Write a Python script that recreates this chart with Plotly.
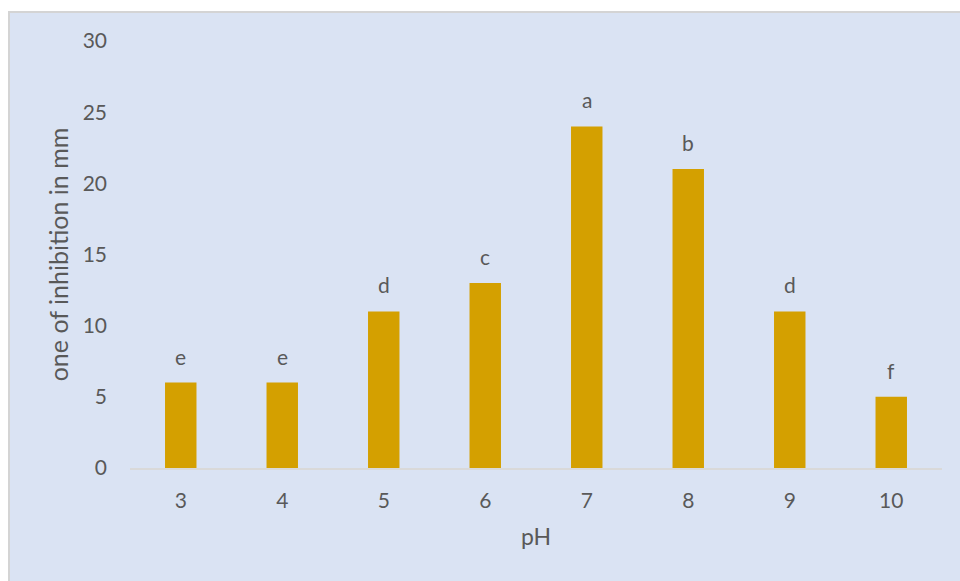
import plotly.graph_objects as go

# pH levels, zone of inhibition (mm) and significance letters
ph_levels = ["3", "4", "5", "6", "7", "8", "9", "10"]
inhibition_mm = [6, 6, 11, 13, 24, 21, 11, 5]
group_letters = ["e", "e", "d", "c", "a", "b", "d", "f"]
y_ticks = [0, 5, 10, 15, 20, 25, 30]

FONT = "Lato"
GREY_TEXT = "#595959"
BAR_COLOR = "#D4A000"
PANEL_BG = "#DAE3F3"

W, H = 960, 581
ML, MR, MT, MB = 130, 18, 41, 113
plot_w = W - ML - MR
plot_h = H - MT - MB


def px_to_paper_x(px):
    return (px - ML) / plot_w


def px_to_paper_y(py):
    return (H - MB - py) / plot_h


fig = go.Figure()

fig.add_trace(go.Bar(
    x=ph_levels,
    y=inhibition_mm,
    marker=dict(color=BAR_COLOR, line=dict(width=0)),
    width=0.31,
    hoverinfo="x+y",
))

# Letters above each bar (category positions addressed by index)
for idx, (val, letter) in enumerate(zip(inhibition_mm, group_letters)):
    fig.add_annotation(
        x=idx, y=val, text=letter, showarrow=False,
        yanchor="bottom", yshift=12,
        font=dict(family=FONT, size=21, color=GREY_TEXT),
    )

# Light blue chart panel with a thin grey frame on the top and left
fig.add_shape(
    type="rect", xref="paper", yref="paper", layer="below",
    x0=px_to_paper_x(9), x1=px_to_paper_x(W + 5),
    y0=px_to_paper_y(H + 5), y1=px_to_paper_y(12),
    fillcolor=PANEL_BG, line=dict(color="#D4D4D4", width=2),
)

fig.update_layout(
    width=W, height=H,
    margin=dict(l=ML, r=MR, t=MT, b=MB, pad=0),
    paper_bgcolor="white",
    plot_bgcolor="rgba(0,0,0,0)",
    showlegend=False,
    bargap=0.69,
    font=dict(family=FONT, color=GREY_TEXT, size=21),
    xaxis=dict(
        type="category",
        showline=True, linecolor="#D9D9D9", linewidth=2,
        showgrid=False, ticks="", zeroline=False,
        ticklabelstandoff=13,
        tickfont=dict(family=FONT, size=21, color=GREY_TEXT),
        title=dict(text="pH", standoff=18,
                   font=dict(family=FONT, size=23, color=GREY_TEXT)),
    ),
    yaxis=dict(
        range=[0, 30],
        tickvals=y_ticks,
        showline=False, showgrid=False, zeroline=False, ticks="",
        ticklabelstandoff=22,
        tickfont=dict(family=FONT, size=21, color=GREY_TEXT),
        title=dict(text="one of inhibition in mm", standoff=6,
                   font=dict(family=FONT, size=25, color=GREY_TEXT)),
    ),
)

fig.write_html("out.html")
